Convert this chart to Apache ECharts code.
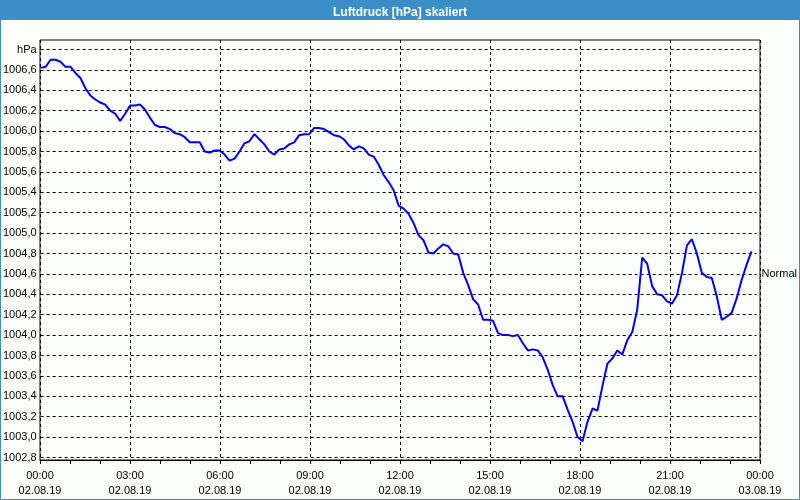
<!DOCTYPE html>
<html>
<head>
<meta charset="utf-8">
<script src="https://cdn.jsdelivr.net/npm/echarts@6/dist/echarts.min.js"></script>
<style>
html,body{margin:0;padding:0;background:#fcfefc;}
#chart{width:800px;height:500px;}
</style>
</head>
<body>
<div id="chart"></div>
<script>
// ---- data ----
const titleText = 'Luftdruck [hPa] skaliert';
const stepMinutes = 10; // sampling interval of the measurements, starting 02.08.19 00:00
const pressure = [
  1006.62, 1006.63, 1006.70, 1006.70, 1006.68, 1006.63, 1006.63, 1006.57, 1006.52, 1006.42,
  1006.35, 1006.31, 1006.28, 1006.26, 1006.20, 1006.17, 1006.10, 1006.17, 1006.25, 1006.25,
  1006.26, 1006.21, 1006.13, 1006.06, 1006.04, 1006.04, 1006.02, 1005.98, 1005.97, 1005.94,
  1005.89, 1005.89, 1005.89, 1005.80, 1005.79, 1005.81, 1005.81, 1005.77, 1005.71, 1005.73,
  1005.80, 1005.88, 1005.90, 1005.97, 1005.92, 1005.87, 1005.80, 1005.77, 1005.82, 1005.83,
  1005.87, 1005.89, 1005.96, 1005.97, 1005.97, 1006.03, 1006.03, 1006.02, 1005.99, 1005.96,
  1005.95, 1005.92, 1005.86, 1005.82, 1005.85, 1005.83, 1005.77, 1005.75, 1005.67, 1005.57,
  1005.50, 1005.42, 1005.27, 1005.24, 1005.19, 1005.10, 1004.98, 1004.93, 1004.81, 1004.80,
  1004.85, 1004.89, 1004.87, 1004.80, 1004.79, 1004.61, 1004.49, 1004.35, 1004.30, 1004.15,
  1004.15, 1004.14, 1004.02, 1004.00, 1004.00, 1003.99, 1004.00, 1003.92, 1003.85, 1003.86,
  1003.85, 1003.78, 1003.66, 1003.51, 1003.40, 1003.40, 1003.27, 1003.15, 1003.00, 1002.96,
  1003.15, 1003.28, 1003.26, 1003.50, 1003.72, 1003.77, 1003.85, 1003.81, 1003.95, 1004.03,
  1004.25, 1004.76, 1004.70, 1004.48, 1004.40, 1004.39, 1004.33, 1004.31, 1004.39, 1004.61,
  1004.88, 1004.94, 1004.80, 1004.61, 1004.57, 1004.56, 1004.38, 1004.15, 1004.18, 1004.22,
  1004.36, 1004.54, 1004.69, 1004.82
];
const timeLabels = ['00:00','03:00','06:00','09:00','12:00','15:00','18:00','21:00','00:00'];
const dateLabels = ['02.08.19','02.08.19','02.08.19','02.08.19','02.08.19','02.08.19','02.08.19','02.08.19','03.08.19'];
const yMin = 1002.8, yMax = 1006.8, yStep = 0.2;
const unitLabel = 'hPa';
const normalLabel = 'Normal';
const normalValue = 1004.6;

// ---- chart ----
const FONT = '"Liberation Sans", Arial, sans-serif';
const seriesData = pressure.map((p, i) => [i * stepMinutes, p]);
const chart = echarts.init(document.getElementById('chart'), null, {renderer: 'canvas'});
const dashed = {color: '#000', width: 1, type: [3, 3]};

chart.setOption({
  animation: false,
  backgroundColor: '#fcfefc',
  title: {
    text: titleText, left: 'center', top: 2,
    textStyle: {color: '#fff', fontWeight: 'bold', fontSize: 12, fontFamily: FONT}
  },
  graphic: [
    {type: 'rect', z: -10, shape: {x: 0, y: 0, width: 800, height: 20}, style: {fill: '#3c8fc6'}},
    {type: 'rect', z: -10, shape: {x: 0.5, y: 0.5, width: 799, height: 499}, style: {fill: null, stroke: '#3c8fc6', lineWidth: 1}}
  ],
  grid: [
    {left: 40, right: 40, top: 40, bottom: 40, show: true, borderColor: '#000', borderWidth: 1, backgroundColor: 'transparent'},
    {left: 40, right: 40, top: 49.5, bottom: 42.5}
  ],
  xAxis: [
    {
      type: 'value', gridIndex: 0, min: 0, max: 1440, interval: 180,
      axisLine: {show: true, lineStyle: {color: '#000', width: 1}},
      axisTick: {show: true, length: 4, lineStyle: {color: '#000'}},
      minorTick: {show: true, splitNumber: 3, length: 4, lineStyle: {color: '#000'}},
      splitLine: {show: true, lineStyle: dashed},
      axisLabel: {
        margin: 8, color: '#000', fontSize: 11, fontFamily: FONT, lineHeight: 15,
        formatter: v => { const k = Math.round(v / 180); return timeLabels[k] + '\n' + dateLabels[k]; }
      }
    },
    {type: 'value', gridIndex: 1, min: 0, max: 1440, show: false}
  ],
  yAxis: [
    {type: 'value', gridIndex: 0, min: 0, max: 1, show: false, splitLine: {show: false}},
    {
      type: 'value', gridIndex: 1, min: yMin, max: yMax, interval: yStep,
      axisLine: {show: false}, axisTick: {show: false},
      splitLine: {show: true, lineStyle: dashed},
      axisLabel: {
        margin: 4, color: '#000', fontSize: 11, fontFamily: FONT, padding: [4, 0, 0, 0],
        formatter: v => Math.abs(v - yMax) < 1e-6 ? unitLabel : v.toFixed(1).replace('.', ',')
      }
    },
    {
      type: 'value', gridIndex: 1, position: 'right', min: yMin, max: yMax, interval: yStep,
      axisLine: {show: false}, axisTick: {show: false}, splitLine: {show: false},
      axisLabel: {
        margin: 5, color: '#000', fontSize: 11, fontFamily: FONT, padding: [4, 0, 0, 0],
        formatter: v => Math.abs(v - normalValue) < 1e-6 ? normalLabel : ''
      }
    }
  ],
  series: [{
    type: 'line', xAxisIndex: 1, yAxisIndex: 1,
    data: seriesData, symbol: 'none',
    lineStyle: {color: '#0000ee', width: 2}
  }]
});
</script>
</body>
</html>
